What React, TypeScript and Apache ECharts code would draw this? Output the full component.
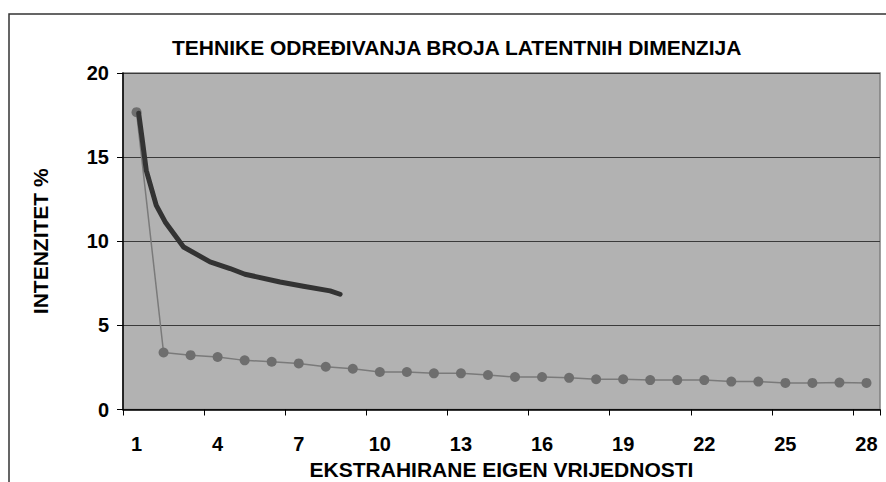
import React, { useEffect, useRef } from "react";
import * as echarts from "echarts";

const categories = Array.from({ length: 28 }, (_, i) => String(i + 1));
const eigenValues = [
  17.67, 3.39, 3.23, 3.12, 2.92, 2.84, 2.74, 2.54, 2.42, 2.23, 2.23, 2.15, 2.15, 2.05,
  1.93, 1.93, 1.88, 1.8, 1.8, 1.75, 1.75, 1.75, 1.66, 1.66, 1.58, 1.58, 1.6, 1.58,
];
const curveX = [1.08, 1.2, 1.36, 1.73, 2.06, 2.74, 3.72, 4.46, 5.01, 6.31, 7.17, 8.16, 8.53];
const curveY = [17.61, 16.19, 14.21, 12.13, 11.15, 9.66, 8.77, 8.38, 8.04, 7.58, 7.33, 7.05, 6.85];
const yTicks = [0, 5, 10, 15, 20];

const FONT = "'Liberation Sans', Arial, sans-serif";

export default function App() {
  const ref = useRef<HTMLDivElement>(null);
  useEffect(() => {
    if (!ref.current) return;
    const chart = echarts.init(ref.current, null, { renderer: "svg" });
    chart.setOption({
      animation: false,
      backgroundColor: "#ffffff",
      textStyle: { fontFamily: FONT },
      title: {
        text: "TEHNIKE ODREĐIVANJA BROJA LATENTNIH DIMENZIJA",
        left: 167,
        top: 32,
        textStyle: { fontFamily: FONT, fontWeight: "bold", fontSize: 21, color: "#000" },
      },
      graphic: [
        {
          type: "rect",
          shape: { x: 9, y: 14, width: 900, height: 500 },
          style: { fill: "none", stroke: "#333", lineWidth: 1.5 },
          silent: true,
        },
      ],
      grid: {
        left: 123, top: 73, right: 6, bottom: 72.5,
        outerBoundsMode: "none",
        containLabel: false,
        show: true, backgroundColor: "#B2B2B2", borderColor: "#808080", borderWidth: 1.5,
      },
      xAxis: [
        {
          type: "category",
          data: categories,
          boundaryGap: true,
          name: "EKSTRAHIRANE EIGEN VRIJEDNOSTI",
          nameLocation: "middle",
          nameGap: 49,
          nameTextStyle: { fontFamily: FONT, fontWeight: "bold", fontSize: 21, color: "#000" },
          axisLine: { show: true, lineStyle: { color: "#000", width: 1.5 } },
          axisTick: { show: true, interval: 2, length: 6, inside: false, lineStyle: { color: "#000" } },
          axisLabel: { interval: 2, margin: 24, fontFamily: FONT, fontWeight: "bold", fontSize: 20, color: "#000" },
          splitLine: { show: false },
        },
        {
          type: "value",
          min: 0.5,
          max: 28.5,
          show: false,
        },
      ],
      yAxis: {
        type: "value",
        min: 0,
        max: 20,
        interval: 5,
        name: "INTENZITET %",
        nameLocation: "middle",
        nameGap: 72,
        nameRotate: 90,
        nameTextStyle: { fontFamily: FONT, fontWeight: "bold", fontSize: 21, color: "#000" },
        axisLine: { show: true, lineStyle: { color: "#000", width: 1.5 } },
        axisTick: { show: true, length: 6, lineStyle: { color: "#000" } },
        axisLabel: { margin: 14, fontFamily: FONT, fontWeight: "bold", fontSize: 20, color: "#000",
          formatter: (v: number) => (yTicks.includes(v) ? String(v) : "") },
        splitLine: { show: true, lineStyle: { color: "#3a3a3a", width: 1.2 } },
      },
      series: [
        {
          type: "line",
          data: eigenValues,
          xAxisIndex: 0,
          symbol: "circle",
          symbolSize: 10,
          showAllSymbol: true,
          itemStyle: { color: "#6e6e6e" },
          lineStyle: { color: "#7a7a7a", width: 1.5 },
          z: 2,
        },
        {
          type: "line",
          xAxisIndex: 1,
          data: curveX.map((x, i) => [x, curveY[i]]),
          symbol: "none",
          lineStyle: { color: "#333333", width: 5, cap: "round", join: "round" },
          z: 3,
        },
      ],
    });
    return () => chart.dispose();
  }, []);
  return (
    <div
      ref={ref}
      style={{ width: 886, height: 482, position: "fixed", left: 0, top: 0 }}
    />
  );
}
